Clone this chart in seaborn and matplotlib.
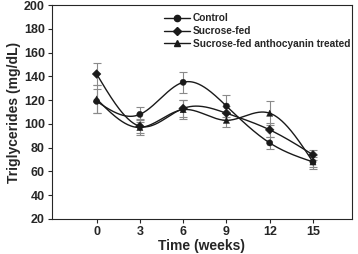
import numpy as np
import pandas as pd
import matplotlib
matplotlib.use('Agg')
import matplotlib.pyplot as plt
import seaborn as sns
from matplotlib.lines import Line2D

# Data
weeks = [0, 3, 6, 9, 12, 15]
control = [119, 108, 135, 115, 84, 68]
control_err = [10, 6, 9, 9, 5, 4]
sucrose = [142, 98, 113, 109, 95, 74]
sucrose_err = [9, 6, 7, 6, 6, 4]
treated = [121, 97, 112, 103, 109, 68]
treated_err = [12, 6, 8, 6, 10, 6]

groups = ['Control', 'Sucrose-fed', 'Sucrose-fed anthocyanin treated']
markers = {'Control': 'o', 'Sucrose-fed': 'D', 'Sucrose-fed anthocyanin treated': '^'}
msize = {'Control': 4.5, 'Sucrose-fed': 4.0, 'Sucrose-fed anthocyanin treated': 5.0}

df = pd.DataFrame({
    'Week': weeks * 3,
    'TG': control + sucrose + treated,
    'err': control_err + sucrose_err + treated_err,
    'Group': np.repeat(groups, len(weeks)),
})


def natural_spline(x, y, n=300):
    # smooth curve through the points, like the spline lines of the original
    x = np.asarray(x, float)
    y = np.asarray(y, float)
    k = len(x)
    h = np.diff(x)
    A = np.zeros((k, k))
    b = np.zeros(k)
    A[0, 0] = A[-1, -1] = 1
    for i in range(1, k - 1):
        A[i, i - 1] = h[i - 1]
        A[i, i] = 2 * (h[i - 1] + h[i])
        A[i, i + 1] = h[i]
        b[i] = 6 * ((y[i + 1] - y[i]) / h[i] - (y[i] - y[i - 1]) / h[i - 1])
    M = np.linalg.solve(A, b)
    xs = np.linspace(x[0], x[-1], n)
    idx = np.clip(np.searchsorted(x, xs) - 1, 0, k - 2)
    x0, x1 = x[idx], x[idx + 1]
    hh = x1 - x0
    t0, t1 = x1 - xs, xs - x0
    ys = (M[idx] * t0**3 + M[idx + 1] * t1**3) / (6 * hh) \
        + (y[idx] / hh - M[idx] * hh / 6) * t0 \
        + (y[idx + 1] / hh - M[idx + 1] * hh / 6) * t1
    return xs, ys


sns.set_style('ticks')
plt.rcParams['font.family'] = ['Liberation Sans', 'DejaVu Sans']
plt.rcParams['font.weight'] = 'bold'

fig, ax = plt.subplots(figsize=(3.58, 2.54), dpi=100)

for g in groups:
    sub = df[df['Group'] == g]
    ax.errorbar(sub['Week'], sub['TG'], yerr=sub['err'], fmt='none',
                ecolor='#8a8a8a', elinewidth=0.8, capsize=2.8, capthick=0.8, zorder=2)
    xs, ys = natural_spline(sub['Week'], sub['TG'])
    ax.plot(xs, ys, color='#1a1a1a', lw=1.0, zorder=3)

sns.scatterplot(data=df, x='Week', y='TG', style='Group', markers=markers,
                color='#1a1a1a', s=20, edgecolor='#1a1a1a', linewidth=0.3,
                legend=False, ax=ax, zorder=4)

handles = [Line2D([], [], color='#1a1a1a', lw=1.0, marker=markers[g],
                  markersize=msize[g], markerfacecolor='#1a1a1a') for g in groups]
ax.legend(handles, groups, loc='upper left', bbox_to_anchor=(0.355, 0.99),
          frameon=False, fontsize=7.3, handlelength=2.5, handletextpad=0.3,
          labelspacing=0.28, borderaxespad=0.2)

ax.set_xlim(-3.1, 17.7)
ax.set_ylim(20, 200)
ax.set_xticks(weeks)
ax.set_yticks(range(20, 201, 20))
ax.tick_params(labelsize=9, length=3, width=0.8, pad=2)
for s in ax.spines.values():
    s.set_linewidth(0.8)
    s.set_visible(True)
ax.set_xlabel('Time (weeks)', fontsize=10, fontweight='bold', labelpad=1)
ax.set_ylabel('Triglycerides (mg/dL)', fontsize=10, fontweight='bold', labelpad=2)

fig.subplots_adjust(left=0.145, right=0.983, top=0.98, bottom=0.138)
fig.savefig('out.png', dpi=100)
